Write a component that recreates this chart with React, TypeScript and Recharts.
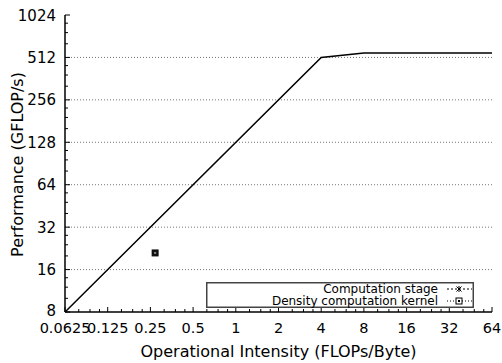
import React from 'react';
import {
  ComposedChart,
  Line,
  Scatter,
  XAxis,
  YAxis,
  CartesianGrid,
  Legend,
} from 'recharts';

// roofline (attainable performance)
const rooflineIntensity = [0.0625, 4, 8, 64];
const rooflinePerf = [8, 512, 550, 550];

// measured kernel
const kernelIntensity = [0.27];
const kernelPerf = [21];

const xTicks = [0.0625, 0.125, 0.25, 0.5, 1, 2, 4, 8, 16, 32, 64];
const xTickLabels = ['0.0625', '0.125', '0.25', '0.5', '1', '2', '4', '8', '16', '32', '64'];
const yTicks = [8, 16, 32, 64, 128, 256, 512, 1024];
const yTickLabels = ['8', '16', '32', '64', '128', '256', '512', '1024'];

const legendNames = ['Computation stage', 'Density computation kernel'];

const FONT = '"DejaVu Sans", sans-serif';

// minor tics between each pair of major tics
const minorSteps = [1.25, 1.5, 1.75];
const withMinor = (major: number[]) => {
  const out: number[] = [...major];
  for (let i = 0; i < major.length - 1; i++) {
    minorSteps.forEach((m) => out.push(major[i] * m));
  }
  return out.sort((a, b) => a - b);
};

const xAllTicks = withMinor(xTicks);
const yAllTicks = withMinor(yTicks);

const rooflineData = rooflineIntensity.map((x, i) => ({ x, y: rooflinePerf[i] }));
const kernelData = kernelIntensity.map((x, i) => ({ x, y: kernelPerf[i] }));

const isMajor = (list: number[], v: number) => list.some((t) => Math.abs(t - v) < 1e-9);

function BottomTick(props: any) {
  const { x, y, payload } = props;
  const major = isMajor(xTicks, payload.value);
  const idx = xTicks.findIndex((t) => Math.abs(t - payload.value) < 1e-9);
  return (
    <g>
      <line x1={x} x2={x} y1={y} y2={y - (major ? 5 : 3)} stroke="#000" strokeWidth={1} />
      {major && (
        <text x={x} y={y + 21} textAnchor="middle" fontSize={14.5} fontFamily={FONT} fill="#000">
          {xTickLabels[idx]}
        </text>
      )}
    </g>
  );
}

function TopTick(props: any) {
  const { x, y, payload } = props;
  const major = isMajor(xTicks, payload.value);
  return <line x1={x} x2={x} y1={y} y2={y + (major ? 5 : 3)} stroke="#000" strokeWidth={1} />;
}

function LeftTick(props: any) {
  const { x, y, payload } = props;
  const major = isMajor(yTicks, payload.value);
  const idx = yTicks.findIndex((t) => Math.abs(t - payload.value) < 1e-9);
  // lowest label sits a little higher so it clears the first x label
  const lift = idx === 0 ? -2 : 0;
  return (
    <g>
      <line x1={x} x2={x + (major ? 5 : 3)} y1={y} y2={y} stroke="#000" strokeWidth={1} />
      {major && (
        <text x={x - 9} y={y + 5.5 + lift} textAnchor="end" fontSize={15} fontFamily={FONT} fill="#000">
          {yTickLabels[idx]}
        </text>
      )}
    </g>
  );
}

function RightTick(props: any) {
  const { x, y, payload } = props;
  const major = isMajor(yTicks, payload.value);
  return <line x1={x} x2={x - (major ? 5 : 3)} y1={y} y2={y} stroke="#000" strokeWidth={1} />;
}

function KernelSquare(props: any) {
  const { cx, cy } = props;
  return (
    <g>
      <rect x={cx - 3.5} y={cy - 3.5} width={7} height={7} fill="#111" />
      <rect x={cx - 1} y={cy - 1} width={2} height={2} fill="#888" />
    </g>
  );
}

function LegendBox() {
  return (
    <svg width={268} height={26} style={{ display: 'block' }}>
      <rect x={0.75} y={0.75} width={266.5} height={24.5} fill="#fff" stroke="#444" strokeWidth={1.5} />
      <text x={232} y={10.5} textAnchor="end" fontSize={12} fontFamily={FONT} fill="#000">
        {legendNames[0]}
      </text>
      <line x1={241} x2={266} y1={7} y2={7} stroke="#000" strokeDasharray="2 2" />
      <path d="M250.5 4.5 L255.5 9.5 M255.5 4.5 L250.5 9.5 M253 4 L253 10" stroke="#000" />
      <text x={232} y={23} textAnchor="end" fontSize={12} fontFamily={FONT} fill="#000">
        {legendNames[1]}
      </text>
      <line x1={241} x2={266} y1={19} y2={19} stroke="#000" strokeDasharray="1 2" />
      <rect x={250} y={16} width={6} height={6} fill="#fff" stroke="#000" />
      <rect x={252} y={18} width={2} height={2} fill="#000" />
    </svg>
  );
}

export default function App() {
  return (
    <div style={{ position: 'absolute', left: 0, top: 0, background: '#fff' }}>
      <ComposedChart
        width={502}
        height={363}
        margin={{ top: 15, right: 10, bottom: 0, left: 0 }}
      >
        <CartesianGrid
          vertical={false}
          horizontalValues={yTicks.slice(1, -1)}
          stroke="#777"
          strokeDasharray="1 2"
        />
        <XAxis
          type="number"
          dataKey="x"
          scale="log"
          domain={[0.0625, 64]}
          ticks={xAllTicks}
          interval={0}
          allowDataOverflow
          height={51}
          tickSize={0}
          tickMargin={0}
          tickLine={false}
          axisLine={{ stroke: '#000', strokeWidth: 1.5 }}
          tick={BottomTick}
          label={{
            value: 'Operational Intensity (FLOPs/Byte)',
            position: 'center',
            dy: 14,
            fontSize: 16,
            fontFamily: FONT,
            fill: '#000',
          }}
        />
        <XAxis
          xAxisId="top"
          orientation="top"
          type="number"
          dataKey="x"
          scale="log"
          domain={[0.0625, 64]}
          ticks={xAllTicks}
          interval={0}
          allowDataOverflow
          height={0}
          tickSize={0}
          tickMargin={0}
          tickLine={false}
          axisLine={{ stroke: '#000', strokeWidth: 1.5 }}
          tick={TopTick}
        />
        <YAxis
          type="number"
          dataKey="y"
          scale="log"
          domain={[8, 1024]}
          ticks={yAllTicks}
          interval={0}
          allowDataOverflow
          width={65}
          tickSize={0}
          tickMargin={0}
          tickLine={false}
          axisLine={{ stroke: '#000', strokeWidth: 1.5 }}
          tick={LeftTick}
          label={{
            value: 'Performance (GFLOP/s)',
            angle: -90,
            position: 'center',
            dx: -15,
            dy: 1,
            fontSize: 16,
            fontFamily: FONT,
            fill: '#000',
          }}
        />
        <YAxis
          yAxisId="right"
          orientation="right"
          type="number"
          dataKey="y"
          scale="log"
          domain={[8, 1024]}
          ticks={yAllTicks}
          interval={0}
          allowDataOverflow
          width={0}
          tickSize={0}
          tickMargin={0}
          tickLine={false}
          axisLine={{ stroke: '#000', strokeWidth: 1.5 }}
          tick={RightTick}
        />
        <Line
          data={rooflineData}
          dataKey="y"
          type="linear"
          stroke="#000"
          strokeWidth={1.5}
          dot={false}
          isAnimationActive={false}
        />
        <Scatter
          data={kernelData}
          dataKey="y"
          shape={KernelSquare}
          isAnimationActive={false}
        />
        <Legend
          layout="vertical"
          align="center"
          verticalAlign="middle"
          content={LegendBox}
          wrapperStyle={{ position: 'absolute', left: 206, top: 282, width: 268, height: 26 }}
        />
      </ComposedChart>
    </div>
  );
}
